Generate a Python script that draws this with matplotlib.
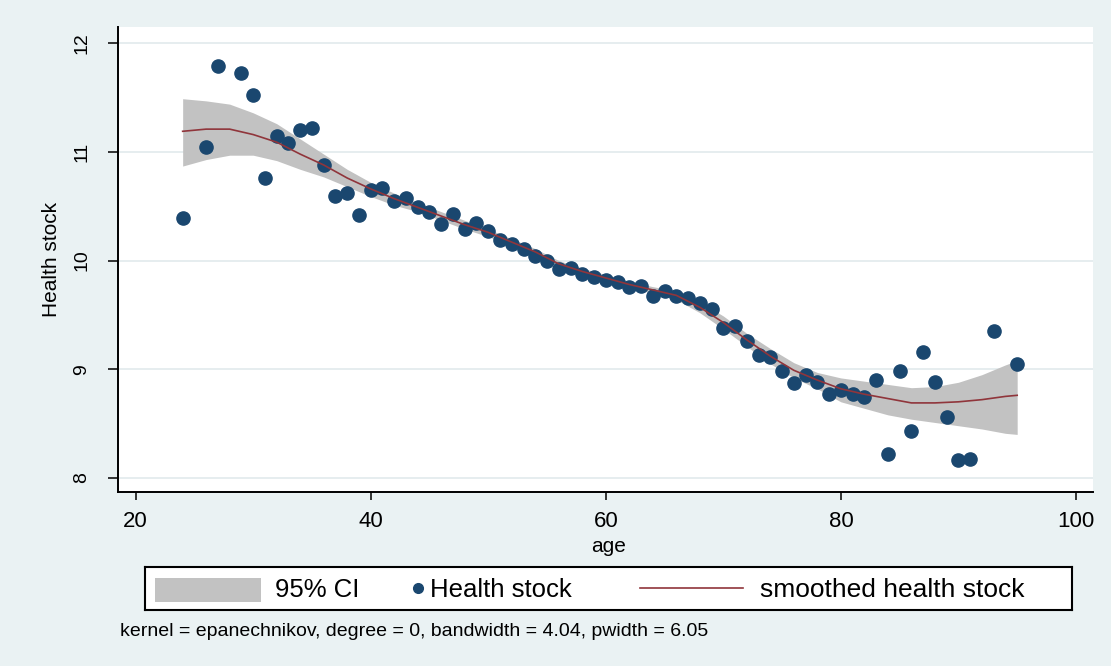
import numpy as np
import matplotlib.pyplot as plt
from matplotlib.patches import Rectangle

plt.rcParams['font.family'] = ['Liberation Sans', 'DejaVu Sans']

# observed health stock by age
age = [24, 26, 27, 29, 30, 31, 32, 33, 34, 35, 36, 37, 38, 39, 40, 41, 42, 43,
       44, 45, 46, 47, 48, 49, 50, 51, 52, 53, 54, 55, 56, 57, 58, 59, 60, 61,
       62, 63, 64, 65, 66, 67, 68, 69, 70, 71, 72, 73, 74, 75, 76, 77, 78, 79,
       80, 81, 82, 83, 84, 85, 86, 87, 88, 89, 90, 91, 93, 95]
health = [10.39, 11.05, 11.79, 11.73, 11.52, 10.76, 11.15, 11.08, 11.20, 11.22,
          10.88, 10.59, 10.62, 10.42, 10.65, 10.67, 10.55, 10.58, 10.49, 10.45,
          10.34, 10.43, 10.29, 10.35, 10.27, 10.19, 10.15, 10.11, 10.04, 10.00,
          9.92, 9.93, 9.88, 9.85, 9.82, 9.80, 9.76, 9.77, 9.67, 9.72, 9.67, 9.66,
          9.61, 9.55, 9.38, 9.40, 9.26, 9.13, 9.11, 8.98, 8.87, 8.95, 8.88, 8.77,
          8.81, 8.77, 8.74, 8.90, 8.22, 8.98, 8.43, 9.16, 8.88, 8.56, 8.16, 8.17,
          9.35, 9.05]

# local polynomial smooth and 95% CI
grid = [24, 26, 28, 30, 32, 34, 36, 38, 40, 42, 44, 46, 48, 50, 52, 54, 56, 58,
        60, 62, 64, 66, 68, 70, 72, 74, 76, 78, 80, 82, 84, 86, 88, 90, 92, 94, 95]
smooth = [11.19, 11.21, 11.21, 11.16, 11.09, 10.98, 10.88, 10.76, 10.66, 10.57,
          10.49, 10.41, 10.33, 10.26, 10.17, 10.08, 9.97, 9.90, 9.84, 9.78, 9.73,
          9.68, 9.57, 9.43, 9.27, 9.12, 8.99, 8.90, 8.82, 8.77, 8.73, 8.69, 8.69,
          8.70, 8.72, 8.75, 8.76]
ci_hi = [11.49, 11.47, 11.44, 11.36, 11.26, 11.12, 10.98, 10.84, 10.72, 10.62,
         10.53, 10.45, 10.37, 10.29, 10.20, 10.11, 10.00, 9.93, 9.87, 9.81, 9.76,
         9.72, 9.62, 9.49, 9.33, 9.19, 9.06, 8.97, 8.92, 8.89, 8.86, 8.83, 8.84,
         8.88, 8.95, 9.04, 9.08]
ci_lo = [10.87, 10.93, 10.97, 10.97, 10.92, 10.84, 10.77, 10.68, 10.59, 10.51,
         10.45, 10.37, 10.29, 10.22, 10.14, 10.05, 9.94, 9.87, 9.81, 9.75, 9.70,
         9.64, 9.52, 9.37, 9.21, 9.05, 8.92, 8.82, 8.70, 8.64, 8.58, 8.54, 8.51,
         8.48, 8.45, 8.41, 8.40]

navy = '#1A476F'
maroon = '#90353B'
band = '#C2C2C2'
bg = '#EAF2F3'

fig = plt.figure(figsize=(11.11, 6.66), dpi=100, facecolor=bg)
ax = fig.add_axes([118/1111, 1 - 492/666, 975/1111, 465/666])
ax.set_facecolor('white')

ax.fill_between(grid, ci_lo, ci_hi, color=band, lw=0, zorder=2)
ax.plot(age, health, 'o', color=navy, markersize=9.5, zorder=3)
ax.plot(grid, smooth, color=maroon, lw=1.2, zorder=4)

ax.set_xlim(18.5, 101.45)
ax.set_ylim(7.87, 12.15)
ax.set_xticks([20, 40, 60, 80, 100])
ax.set_yticks([8, 9, 10, 11, 12])
ax.grid(axis='y', color='#E2EAEC', lw=1.2, zorder=1)
ax.set_axisbelow(True)

for side in ['top', 'right']:
    ax.spines[side].set_visible(False)
for side in ['left', 'bottom']:
    ax.spines[side].set_linewidth(1.4)

ax.tick_params(axis='x', length=6, width=1.1, pad=8, labelsize=16)
ax.tick_params(axis='y', length=7, width=1.1, pad=13, labelsize=14, labelrotation=90)
for lbl in ax.get_yticklabels():
    lbl.set_va('center')

ax.set_xlabel('age', fontsize=15)
ax.xaxis.set_label_coords(0.5036, -0.097)
ax.set_ylabel('Health stock', fontsize=15)
ax.yaxis.set_label_coords(-0.058, 0.5)

# legend box drawn in pixel space below the plot
lax = fig.add_axes([145/1111, 1 - 610/666, 927/1111, 43/666])
lax.set_xlim(145, 1072)
lax.set_ylim(610, 567)
lax.set_xticks([])
lax.set_yticks([])
for s in lax.spines.values():
    s.set_linewidth(1.5)
lax.add_patch(Rectangle((155, 578), 106, 24, color=band, lw=0))
lax.text(275, 590, '95% CI', fontsize=18.5, va='center')
lax.plot([418], [588], 'o', color=navy, markersize=7)
lax.text(430, 590, 'Health stock', fontsize=18.5, va='center')
lax.plot([640, 743], [588, 588], color=maroon, lw=1.2)
lax.text(760, 590, 'smoothed health stock', fontsize=19, va='center')

fig.text(120/1111, 1 - 632/666,
         'kernel = epanechnikov, degree = 0, bandwidth = 4.04, pwidth = 6.05',
         fontsize=14, va='center')

fig.savefig('out.png', dpi=100, facecolor=bg)
